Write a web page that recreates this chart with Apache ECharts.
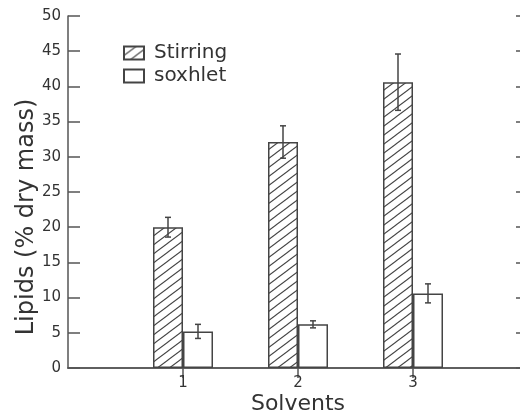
<!DOCTYPE html>
<html>
<head>
<meta charset="utf-8">
<script src="https://cdn.jsdelivr.net/npm/echarts@6/dist/echarts.min.js"></script>
<style>
html,body{margin:0;padding:0;background:#fff;}
#chart{width:520px;height:414px;}
</style>
</head>
<body>
<div id="chart"></div>
<script>
// ---- data ----
const categories = ['', '1', '2', '3', ''];
const stirring = [null, 20.0, 32.1, 40.6, null];
const stirringErr = [null, 1.4, 2.3, 4.0, null];
const soxhlet = [null, 5.2, 6.2, 10.6, null];
const soxhletErr = [null, 1.0, 0.5, 1.35, null];
const yTicks = { min: 0, max: 50, interval: 5 };
const seriesNames = ['Stirring', 'soxhlet'];
const xTitle = 'Solvents';
const yTitle = 'Lipids (% dry mass)';

// ---- style ----
const INK = '#444';
const FONT = 'DejaVu Sans';
const BAR_W = 30;

function hatch() {
  const W = 12, H = 9;
  const c = document.createElement('canvas');
  c.width = W; c.height = H;
  const g = c.getContext('2d');
  g.fillStyle = '#fff';
  g.fillRect(0, 0, W, H);
  g.strokeStyle = INK;
  g.lineWidth = 1.1;
  for (const dy of [-H, 0, H]) {
    g.beginPath();
    g.moveTo(-W, 2 * H + dy);
    g.lineTo(2 * W, -H + dy);
    g.stroke();
  }
  return { image: c, repeat: 'repeat' };
}

function errSeries(vals, errs, sign) {
  const data = [];
  vals.forEach((v, i) => { if (v != null) data.push([i, v, errs[i]]); });
  return {
    type: 'custom',
    silent: true,
    z: 5,
    renderItem: function (params, api) {
      const x = api.value(0), v = api.value(1), e = api.value(2);
      const top = api.coord([x, v + e]);
      const bot = api.coord([x, v - e]);
      const cx = top[0] + sign * BAR_W / 2;
      const cap = 3;
      const st = { stroke: INK, lineWidth: 1.5 };
      return {
        type: 'group',
        children: [
          { type: 'line', shape: { x1: cx, y1: top[1], x2: cx, y2: bot[1] }, style: st },
          { type: 'line', shape: { x1: cx - cap, y1: top[1], x2: cx + cap, y2: top[1] }, style: st },
          { type: 'line', shape: { x1: cx - cap, y1: bot[1], x2: cx + cap, y2: bot[1] }, style: st }
        ]
      };
    },
    data: data
  };
}

const chart = echarts.init(document.getElementById('chart'), null, { renderer: 'canvas' });

const axisLine = { show: true, lineStyle: { color: '#555', width: 1.5 } };

chart.setOption({
  animation: false,
  backgroundColor: '#fff',
  textStyle: { fontFamily: FONT },
  grid: { left: 68, right: -8, top: 16, bottom: 46, containLabel: false, outerBoundsMode: 'none' },
  legend: {
    orient: 'vertical',
    left: 118,
    top: 38,
    icon: 'rect',
    itemWidth: 20,
    itemHeight: 13,
    itemGap: 3,
    data: seriesNames,
    textStyle: { fontFamily: FONT, fontSize: 20, color: '#333', padding: [0, 0, 0, 5] },
    selectedMode: false
  },
  xAxis: [
    {
      type: 'category', position: 'bottom', data: categories, boundaryGap: false,
      axisLine: axisLine,
      axisTick: { show: true, inside: true, length: 10, lineStyle: { color: '#555', width: 1.5 },
        interval: (i) => i >= 1 && i <= 3 },
      axisLabel: { interval: 0, fontFamily: FONT, fontSize: 15, color: '#333', margin: 8 },
      splitLine: { show: false },
      name: xTitle, nameLocation: 'middle', nameGap: 25, nameMoveOverlap: false,
      nameTextStyle: { fontFamily: FONT, fontSize: 22, color: '#333' }
    },
    {
      type: 'category', position: 'top', data: categories, boundaryGap: false,
      axisLine: axisLine,
      axisTick: { show: true, inside: true, length: 10, lineStyle: { color: '#555', width: 1.5 },
        interval: (i) => i >= 1 && i <= 3 },
      axisLabel: { show: false },
      splitLine: { show: false }
    }
  ],
  yAxis: [
    {
      type: 'value', position: 'left', min: yTicks.min, max: yTicks.max, interval: yTicks.interval,
      axisLine: axisLine,
      axisTick: { show: true, inside: true, length: 12, lineStyle: { color: '#555', width: 1.5 } },
      axisLabel: { fontFamily: FONT, fontSize: 15, color: '#333', margin: 7 },
      splitLine: { show: false }
    },
    {
      type: 'value', position: 'right', min: yTicks.min, max: yTicks.max, interval: yTicks.interval,
      axisLine: axisLine,
      axisTick: { show: true, inside: true, length: 12, lineStyle: { color: '#555', width: 1.5 } },
      axisLabel: { show: false },
      splitLine: { show: false }
    }
  ],
  graphic: [
    {
      type: 'text', x: 27, y: 217, rotation: Math.PI / 2,
      style: { text: yTitle, font: '24px "DejaVu Sans"', fill: '#333', textAlign: 'center', textVerticalAlign: 'middle' }
    }
  ],
  series: [
    {
      name: seriesNames[0], type: 'bar', barWidth: BAR_W, barGap: '0%',
      itemStyle: { color: hatch(), borderColor: INK, borderWidth: 1.5 },
      data: stirring
    },
    {
      name: seriesNames[1], type: 'bar', barWidth: BAR_W, barGap: '0%',
      itemStyle: { color: '#fff', borderColor: INK, borderWidth: 1.5 },
      data: soxhlet
    },
    errSeries(stirring, stirringErr, -1),
    errSeries(soxhlet, soxhletErr, 1)
  ]
});
</script>
</body>
</html>
